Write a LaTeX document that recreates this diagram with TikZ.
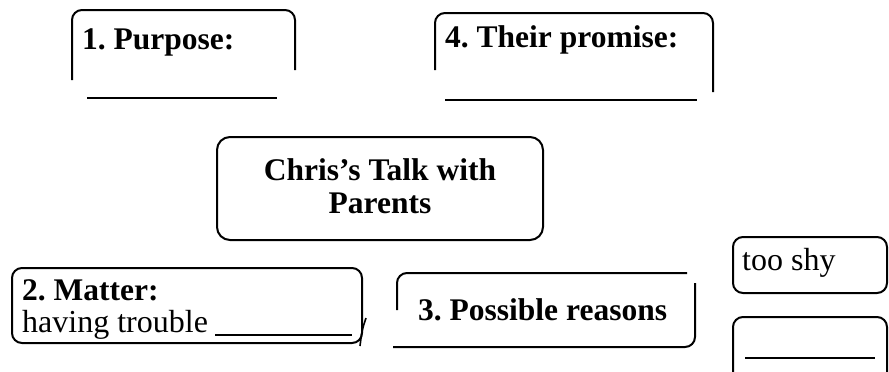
\documentclass[tikz,border=0pt]{standalone}
\usepackage{fontspec}
\setmainfont{Liberation Serif}
\begin{document}
\frenchspacing
\begin{tikzpicture}[x=1pt,y=-1pt,
  frame/.style={line width=2pt, rounded corners=10pt},
  blank/.style={line width=2pt},
  head/.style={font=\fontsize{31.5}{36}\selectfont\bfseries, inner sep=0pt, anchor=base west},
  plain/.style={font=\fontsize{32}{36}\selectfont, inner sep=0pt, anchor=base west}]
\useasboundingbox (0,0) rectangle (889,372);
% Box 1
\draw[frame] (72,80) -- (72,10) -- (295,10) -- (295,70);
\node[head] (purpose) at (82,49) {1. Purpose:};
\coordinate (p1a) at (87,98); \coordinate (p1b) at (277,98);
\draw[blank] (p1a) -- (p1b);
% Box 4
\draw[frame] (435,70) -- (435,13) -- (713,13) -- (713,92);
\node[head] (promise) at (445,47) {4. Their promise:};
\coordinate (p4a) at (445,100); \coordinate (p4b) at (697,100);
\draw[blank] (p4a) -- (p4b);
% Centre
\draw[frame, rounded corners=13pt] (217,137) rectangle (543,240);
\node[head, anchor=base] (title1) at (380,180) {Chris's Talk with};
\node[head, anchor=base] (title2) at (380,213) {Parents};
% Box 2
\draw[frame] (12,268) rectangle (362,343);
\node[head] (matter) at (22,300) {2. Matter:};
\node[plain] (trouble) at (22,332) {having trouble};
\coordinate (p2a) at (215,335); \coordinate (p2b) at (352,335);
\draw[blank] (p2a) -- (p2b);
\coordinate (t1) at (360,346); \coordinate (t2) at (366,318);
\draw[line width=1.6pt] (t1) .. controls (362,330) .. (t2);
% Box 3
\draw[frame] (397,310) |- (687,273);
\draw[frame] (695,283) |- (393,347);
\node[head] (reasons) at (418,320) {3. Possible reasons};
% too shy
\draw[frame] (733,237) rectangle (887,293);
\node[plain] (shy) at (742,270) {too shy};
% blank box
\draw[frame] (733,372) |- (887,317) -- (887,372);
\coordinate (p5a) at (745,358); \coordinate (p5b) at (875,358);
\draw[blank] (p5a) -- (p5b);
\end{tikzpicture}
\end{document}
